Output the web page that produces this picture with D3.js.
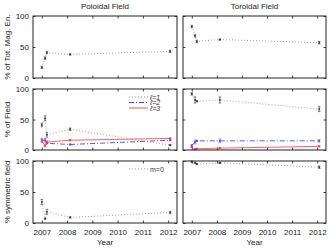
<!DOCTYPE html>
<html>
<head>
<meta charset="utf-8">
<script src="https://cdn.jsdelivr.net/npm/d3@7/dist/d3.min.js"></script>
<style>
  body { margin: 0; background: #fff; }
  svg { font-family: "Liberation Sans", Arial, sans-serif; }
</style>
</head>
<body>
<div class="chart"></div>
<script>
// observation epochs (decimal years)
const epochs = [2007.0, 2007.13, 2007.2, 2008.12, 2012.08];
const yearTicks = [2007, 2008, 2009, 2010, 2011, 2012];
const pctTicks = [0, 50, 100];
const columnTitles = ['Poloidal Field', 'Toroidal Field'];
const rowLabels = ['% of Tot. Mag. En.', '% of Field', '% symmetric field'];

// row 1: share of total magnetic energy
const polEnergy = [17, 32, 41, 38, 43];
const polEnergyErr = [2, 2, 2, 1, 2];
const torEnergy = [83, 68, 59, 62, 57];
const torEnergyErr = [2, 2, 2, 1, 2];

// row 2: share per harmonic degree l
const polL1 = [41, 52, 25, 34, 8];
const polL1Err = [3, 4, 4, 2, 1];
const polL2 = [16, 16, 11, 9, 16];
const polL2Err = [3, 3, 1, 1, 1];
const polL3 = [15, 7, 13, 16, 19];
const polL3Err = [2, 2, 2, 1, 1];
const torL1 = [92, 82, 80, 82, 67];
const torL1Err = [2, 5, 1, 5, 4];
const torL2 = [7, 13, 15, 15, 15];
const torL2Err = [2, 3, 1, 3, 2];
const torL3 = [5, 1, 2, 3, 6];
const torL3Err = [1, 1, 1, 1, 1];

// row 3: axisymmetric (m=0) share
const polM0 = [34, 7, 18, 9, 17];
const polM0Err = [4, 1, 4, 1, 2];
const torM0 = [99, 97, 95, 97, 90];
const torM0Err = [1, 1, 1, 1, 2];

const legendL = ['\u2113=1', '\u2113=2', '\u2113=3'];
const legendM = ['m=0'];

const W = 333, H = 250;
const cols = [[33, 177], [183, 326]];
const rows = [[16, 78], [89, 150], [161, 223]];

const styles = {
  dot:  { stroke: '#999', dash: '1,2', mark: '#333' },
  dash: { stroke: '#4444ff', dash: '5,2,1,2', mark: '#4444ff' },
  red:  { stroke: '#ff4d4d', dash: null, mark: '#ff3333' }
};

const panels = [
  { r: 0, c: 0, series: [{ v: polEnergy, e: polEnergyErr, s: 'dot' }] },
  { r: 0, c: 1, series: [{ v: torEnergy, e: torEnergyErr, s: 'dot' }] },
  { r: 1, c: 0, legend: legendL, series: [
    { v: polL1, e: polL1Err, s: 'dot' }, { v: polL2, e: polL2Err, s: 'dash' }, { v: polL3, e: polL3Err, s: 'red' }] },
  { r: 1, c: 1, series: [
    { v: torL1, e: torL1Err, s: 'dot' }, { v: torL2, e: torL2Err, s: 'dash' }, { v: torL3, e: torL3Err, s: 'red' }] },
  { r: 2, c: 0, legend: legendM, series: [{ v: polM0, e: polM0Err, s: 'dot' }] },
  { r: 2, c: 1, series: [{ v: torM0, e: torM0Err, s: 'dot' }] }
];

const svg = d3.select('.chart').append('svg')
  .attr('width', W)
  .attr('height', H);

panels.forEach(p => {
  let [x0, x1] = cols[p.c];
  let [y0, y1] = rows[p.r];

  let x = d3.scaleLinear().domain([2006.65, 2012.35]).range([x0, x1]);
  let y = d3.scaleLinear().domain([0, 100]).range([y1, y0]);

  let g = svg.append('g');

  // inward ticks on all four sides
  g.append('g').attr('transform', `translate(0,${y1})`)
    .call(d3.axisBottom(x).tickValues(yearTicks).tickSize(-2.5).tickPadding(6)
      .tickFormat(p.r === 2 ? d3.format('d') : () => ''));
  g.append('g').attr('transform', `translate(0,${y0})`)
    .call(d3.axisTop(x).tickValues(yearTicks).tickSize(-2.5).tickFormat(() => ''));
  g.append('g').attr('transform', `translate(${x0},0)`)
    .call(d3.axisLeft(y).tickValues(pctTicks).tickSize(-2.5).tickPadding(4)
      .tickFormat(p.c === 0 ? d3.format('d') : () => ''));
  g.append('g').attr('transform', `translate(${x1},0)`)
    .call(d3.axisRight(y).tickValues(pctTicks).tickSize(-2.5).tickFormat(() => ''));

  g.selectAll('.domain').remove();
  g.selectAll('.tick line').attr('stroke', '#444');
  g.selectAll('.tick text').attr('font-size', 8).attr('fill', '#222')
    .style('font-family', '"Liberation Sans", Arial, sans-serif');

  // series
  p.series.forEach(sr => {
    let st = styles[sr.s];
    let pts = sr.v.map((v, i) => ({ t: epochs[i], v: v, e: sr.e[i] }));
    let line = d3.line().x(d => x(d.t)).y(d => y(d.v));

    g.append('path')
      .attr('d', line(pts))
      .attr('fill', 'none')
      .attr('stroke', st.stroke)
      .attr('stroke-width', 0.9)
      .attr('stroke-dasharray', st.dash);

    let eb = g.selectAll(null).data(pts).enter().append('g')
      .attr('stroke', st.mark).attr('stroke-width', 0.6);
    eb.append('line')
      .attr('x1', d => x(d.t)).attr('x2', d => x(d.t))
      .attr('y1', d => y(d.v - d.e)).attr('y2', d => y(d.v + d.e));
    eb.append('line')
      .attr('x1', d => x(d.t) - 1.3).attr('x2', d => x(d.t) + 1.3)
      .attr('y1', d => y(d.v - d.e)).attr('y2', d => y(d.v - d.e));
    eb.append('line')
      .attr('x1', d => x(d.t) - 1.3).attr('x2', d => x(d.t) + 1.3)
      .attr('y1', d => y(d.v + d.e)).attr('y2', d => y(d.v + d.e));
    eb.append('rect')
      .attr('x', d => x(d.t) - 0.8).attr('y', d => y(d.v) - 0.8)
      .attr('width', 1.6).attr('height', 1.6)
      .attr('stroke', 'none')
      .attr('fill', st.mark);
  });

  // frame
  g.append('rect')
    .attr('x', x0).attr('y', y0)
    .attr('width', x1 - x0).attr('height', y1 - y0)
    .attr('fill', 'none')
    .attr('stroke', '#222')
    .attr('stroke-width', 1);

  // legend
  if (p.legend) {
    p.legend.forEach((name, i) => {
      let st = styles[p.series[i].s];
      let ly = y0 + 8 + i * 5.5;
      g.append('line')
        .attr('x1', x0 + 96).attr('x2', x0 + 115)
        .attr('y1', ly).attr('y2', ly)
        .attr('stroke', st.stroke)
        .attr('stroke-dasharray', st.dash);
      g.append('text')
        .attr('x', x0 + 117).attr('y', ly + 2.5)
        .attr('font-size', 7)
        .attr('fill', '#333')
        .style('font-style', name.startsWith('m') ? 'normal' : 'italic')
        .text(name);
    });
  }

  if (p.r === 0) {
    svg.append('text')
      .attr('x', (x0 + x1) / 2).attr('y', 9)
      .attr('text-anchor', 'middle')
      .attr('font-size', 8)
      .attr('fill', '#222')
      .text(columnTitles[p.c]);
  }
  if (p.r === 2) {
    svg.append('text')
      .attr('x', (x0 + x1) / 2).attr('y', 245)
      .attr('text-anchor', 'middle')
      .attr('font-size', 8)
      .attr('fill', '#222')
      .text('Year');
  }
  if (p.c === 0) {
    svg.append('text')
      .attr('transform', `translate(10,${(y0 + y1) / 2}) rotate(-90)`)
      .attr('text-anchor', 'middle')
      .attr('font-size', 8)
      .attr('fill', '#222')
      .text(rowLabels[p.r]);
  }
});
</script>
</body>
</html>
